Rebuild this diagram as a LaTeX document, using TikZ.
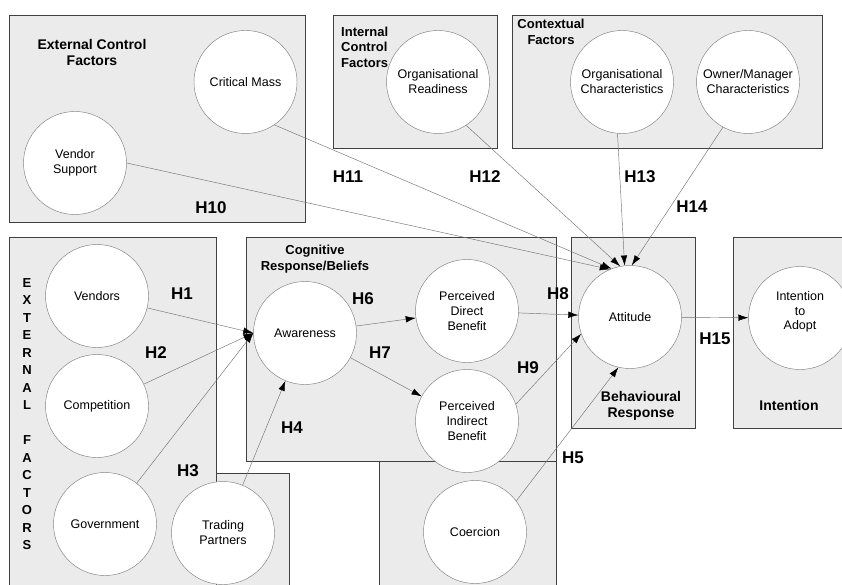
\documentclass[tikz,border=0pt]{standalone}
\usepackage{fontspec}
\setmainfont{Liberation Sans}
\usetikzlibrary{arrows.meta}
\begin{document}
\begin{tikzpicture}[x=1pt,y=-1pt,
 box/.style={draw=black!75, fill=black!8, line width=0.8pt},
 circ/.style={circle, draw=black!50, fill=white, line width=0.45pt, minimum size=103pt, inner sep=0pt, align=center, font=\fontsize{12.5}{15}\selectfont},
 hyp/.style={font=\fontsize{17}{20}\selectfont\bfseries},
 ttl/.style={font=\fontsize{14}{16}\selectfont\bfseries, align=center},
 arr/.style={draw=black!55, line width=0.45pt, -{Latex[length=10pt,width=6.5pt,color=black]}},
]
\useasboundingbox (0,0) rectangle (842,585);
\clip (0,0) rectangle (842,585);
% boxes
\draw[box] (9,15) rectangle (305,222);
\draw[box] (333,15) rectangle (497,148);
\draw[box] (512,15) rectangle (822,148);
\draw[box] (9,237) rectangle (216,600);
\draw[box] (216,473) rectangle (289,600);
\draw[box] (379,461) rectangle (556,600);
\draw[box] (246,237) rectangle (556,461);
\draw[box] (571,237) rectangle (695,428);
\draw[box] (733,237) rectangle (860,428);
% titles
\node[ttl] (tecf) at (92,52) {External Control\\Factors};
\node[font=\fontsize{13}{15.5}\selectfont\bfseries, align=left, anchor=west, inner sep=0pt] (ticf) at (341,47) {Internal\\Control\\Factors};
\node[font=\fontsize{13}{15.5}\selectfont\bfseries, align=center, inner sep=0pt] (tctx) at (551,32) {Contextual\\Factors};
\node[font=\fontsize{13}{16}\selectfont\bfseries, align=center, inner sep=0pt] (tcog) at (315,259) {Cognitive\\Response/Beliefs};
\node[ttl, inner sep=0pt] (tbeh) at (641,406) {Behavioural\\Response};
\node[ttl, inner sep=0pt] (tint) at (789,405) {Intention};
\foreach \l [count=\i from 0] in {E,X,T,E,R,N,A,L,{},F,A,C,T,O,R,S}{
  \node[font=\fontsize{13}{13}\selectfont\bfseries, inner sep=0pt] (ef\i) at (27,283+17.5*\i) {\l};
}
% circles
\node[circ] (crit) at (245.5,82) {Critical Mass};
\node[circ] (vs) at (75,163) {Vendor\\Support};
\node[circ] (orgr) at (438,82) {Organisational\\Readiness};
\node[circ] (orgc) at (622,82) {Organisational\\Characteristics};
\node[circ] (own) at (748,82) {Owner/Manager\\Characteristics};
\node[circ] (ven) at (97,296) {Vendors};
\node[circ] (comp) at (97,406) {Competition};
\node[circ] (gov) at (105,524) {Government};
\node[circ] (trad) at (223,533) {Trading\\Partners};
\node[circ] (aw) at (305,333) {Awareness};
\node[circ] (pdb) at (467,311) {Perceived\\Direct\\Benefit};
\node[circ] (pib) at (467,421) {Perceived\\Indirect\\Benefit};
\node[circ] (coer) at (475,532) {Coercion};
\node[circ] (att) at (630,317) {Attitude};
\node[circ] (int) at (800,318) {};
\node[align=center, font=\fontsize{12.5}{14.5}\selectfont, inner sep=0pt] (intt) at (800,312) {Intention\\to\\Adopt};
% arrows
\draw[arr] (ven) -- (aw.180);
\draw[arr] (comp) -- (aw.180);
\draw[arr] (gov) -- (aw.180);
\draw[arr] (trad) -- (aw);
\draw[arr] (aw) -- (pdb);
\draw[arr] (aw) -- (pib);
\draw[arr] (pdb) -- (att);
\draw[arr] (pib.19) -- (att.199);
\draw[arr] (coer.37) -- (att.257);
\draw[arr] (att) -- (int);
\draw[arr] (vs.0) -- (att.113);
\draw[arr] (crit.-56) -- (att.111);
\draw[arr] (orgr.-57) -- (att.101);
\draw[arr] (orgc.-95) -- (att.96);
\draw[arr] (own.241) -- (att.88);
% hypothesis labels
\node[hyp] (h1) at (182,294) {H1};
\node[hyp] (h2) at (156,353) {H2};
\node[hyp] (h3) at (188,471) {H3};
\node[hyp] (h4) at (292,428) {H4};
\node[hyp] (h5) at (573,458) {H5};
\node[hyp] (h6) at (363,299) {H6};
\node[hyp] (h7) at (380,353) {H7};
\node[hyp] (h8) at (558,294) {H8};
\node[hyp] (h9) at (528,368) {H9};
\node[hyp] (h10) at (211,208) {H10};
\node[hyp] (h11) at (348,177) {H11};
\node[hyp] (h12) at (485,177) {H12};
\node[hyp] (h13) at (640,177) {H13};
\node[hyp] (h14) at (692,207) {H14};
\node[hyp] (h15) at (715,339) {H15};
\end{tikzpicture}
\end{document}
